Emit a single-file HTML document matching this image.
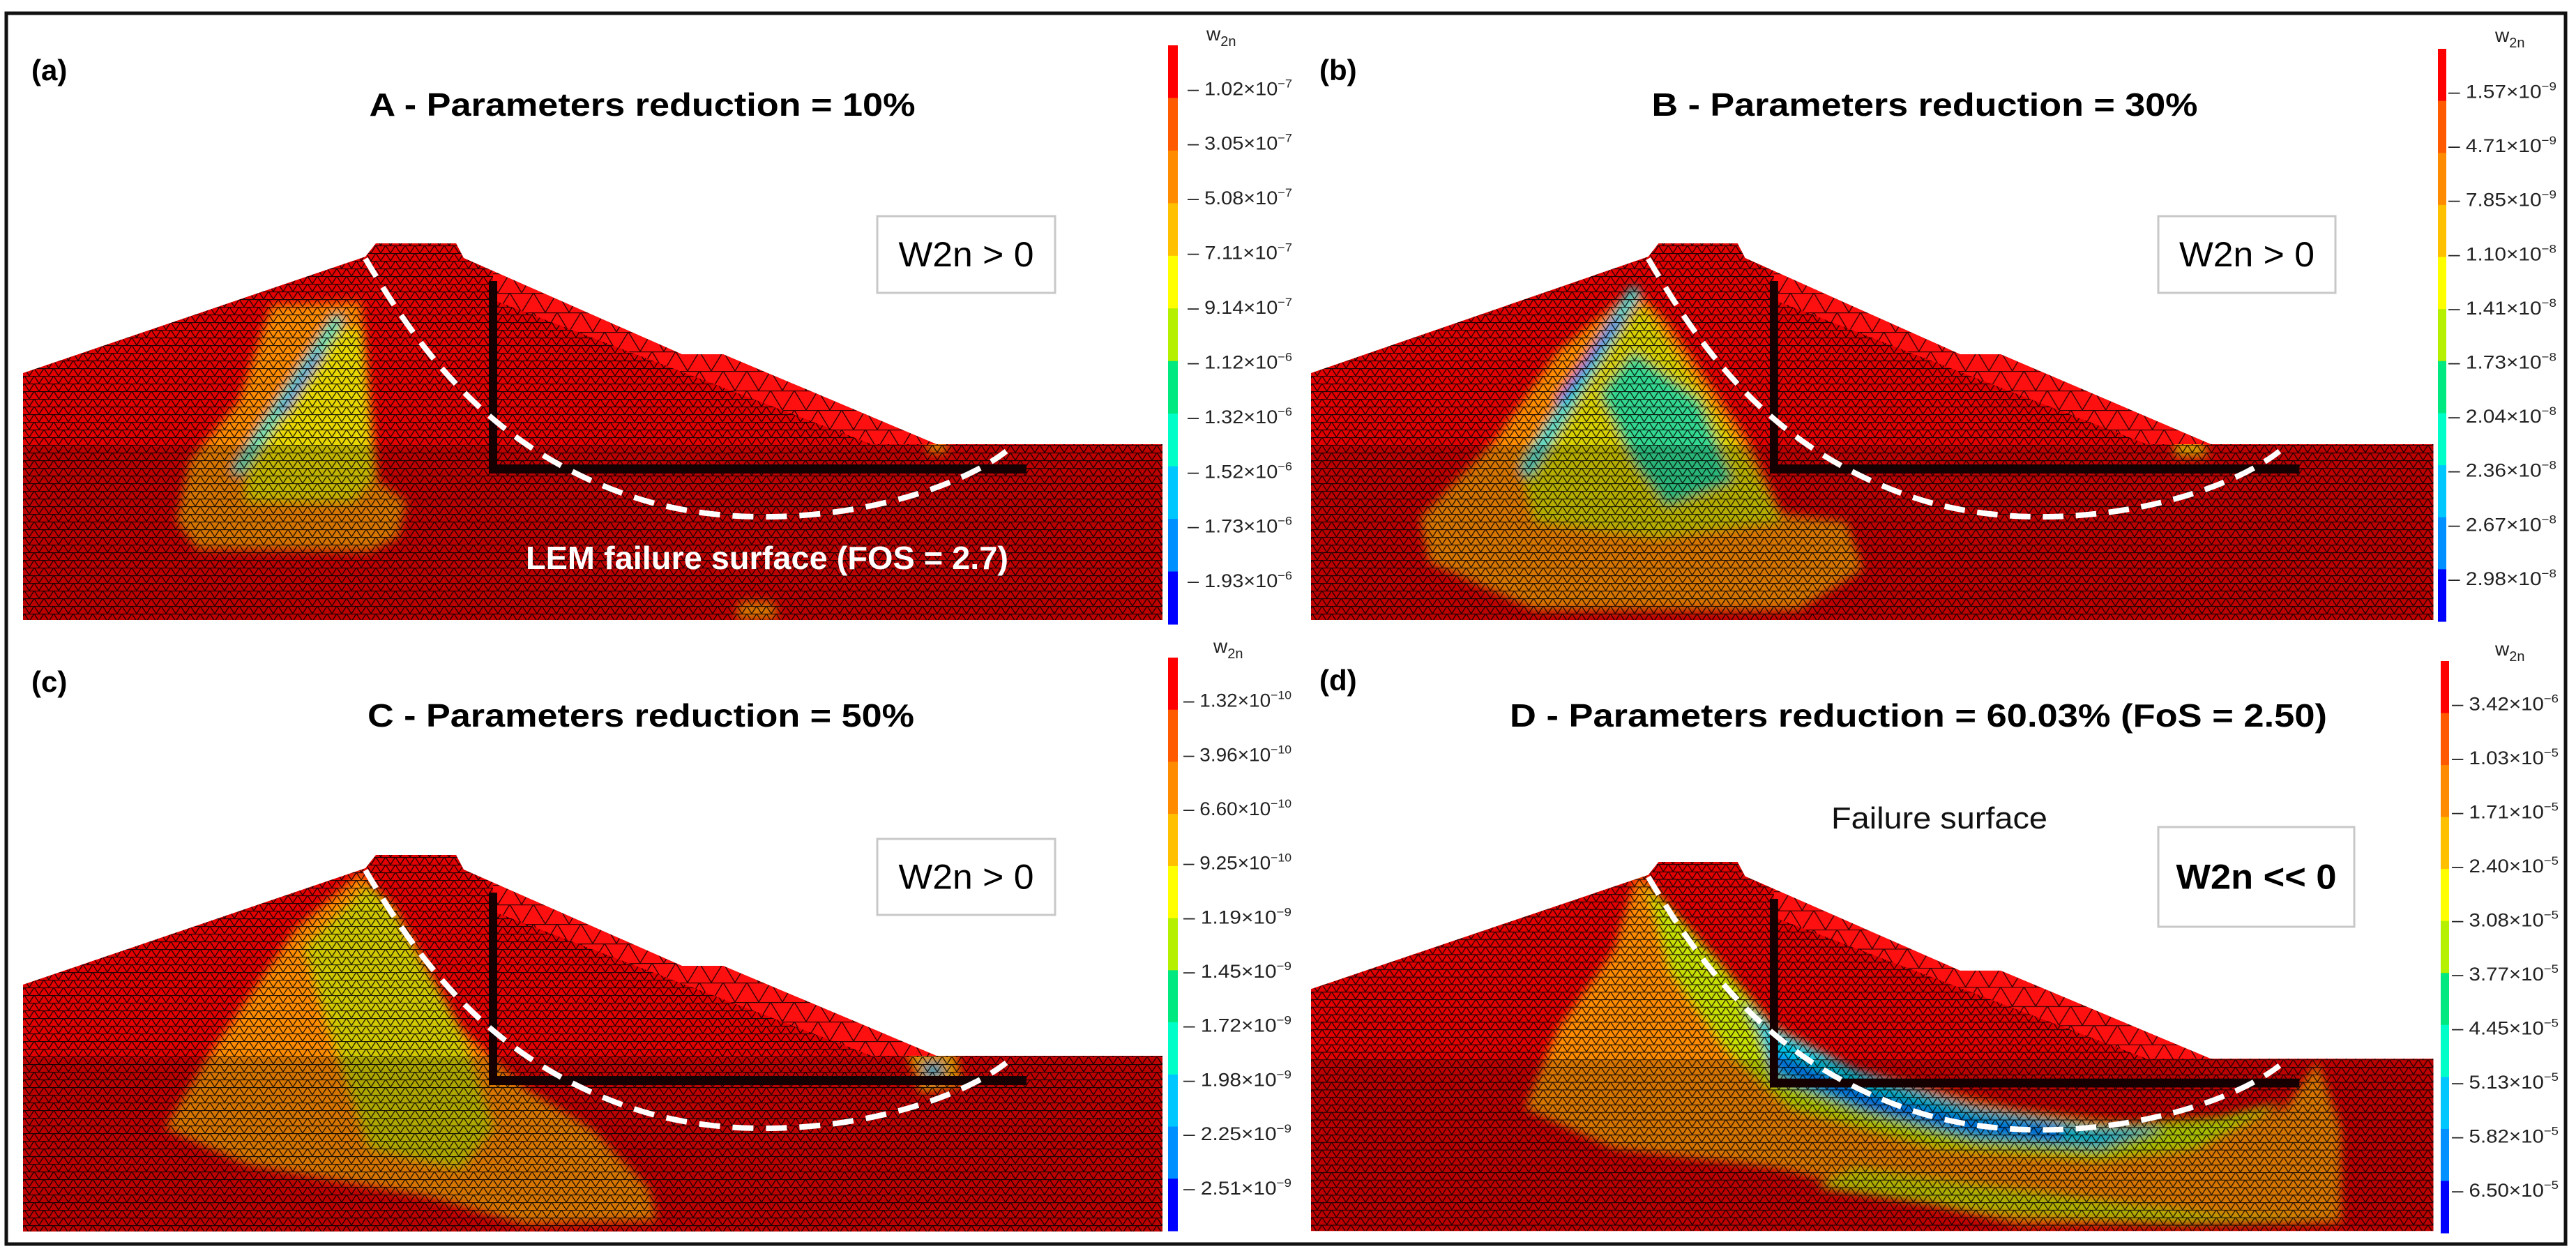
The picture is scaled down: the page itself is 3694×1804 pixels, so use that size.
<!DOCTYPE html>
<html><head><meta charset="utf-8"><style>
html,body{margin:0;padding:0;background:#fff}
svg{display:block}
text{font-family:"Liberation Sans",Arial,sans-serif}
</style></head><body>
<svg id="fig" width="3694" height="1804" viewBox="0 0 3694 1804" xmlns="http://www.w3.org/2000/svg">
<defs>
<pattern id="mesh" width="14" height="11" patternUnits="userSpaceOnUse">
<path d="M0 0.5H14M0 11L7 0L14 11" stroke="#000" stroke-width="1.3" stroke-opacity="0.85" fill="none"/>
</pattern>
<pattern id="meshc" width="34" height="28" patternUnits="userSpaceOnUse">
<path d="M0 0.5H34M0 28L17 0L34 28" stroke="#000" stroke-width="1.4" stroke-opacity="0.8" fill="none"/>
</pattern>
<filter id="soft" x="-20%" y="-20%" width="140%" height="140%"><feGaussianBlur stdDeviation="7"/></filter>
</defs>
<rect x="9" y="19" width="3670" height="1765" fill="#fff" stroke="#111" stroke-width="5"/>
</svg>
<script>
const NS='http://www.w3.org/2000/svg';
const svg=document.getElementById('fig');
const bandColors=['#ff0000','#ff5a00','#ff8c00','#ffc000','#ffff00','#b4f000','#00e880','#00ffc8','#00c8ff','#0090ff','#0000ff'];
const labelsA=['1.02','3.05','5.08','7.11','9.14','1.12','1.32','1.52','1.73','1.93'];
const expsA=['-7','-7','-7','-7','-7','-6','-6','-6','-6','-6'];
const labelsB=['1.57','4.71','7.85','1.10','1.41','1.73','2.04','2.36','2.67','2.98'];
const expsB=['-9','-9','-9','-8','-8','-8','-8','-8','-8','-8'];
const labelsC=['1.32','3.96','6.60','9.25','1.19','1.45','1.72','1.98','2.25','2.51'];
const expsC=['-10','-10','-10','-10','-9','-9','-9','-9','-9','-9'];
const labelsD=['3.42','1.03','1.71','2.40','3.08','3.77','4.45','5.13','5.82','6.50'];
const expsD=['-6','-5','-5','-5','-5','-5','-5','-5','-5','-5'];

function el(tag,attrs,parent){const e=document.createElementNS(NS,tag);for(const k in attrs)e.setAttribute(k,attrs[k]);(parent||svg).appendChild(e);return e;}
function pts(a){return a.map(p=>p.join(',')).join(' ');}

const dam=[[33,535],[524,368],[539,349],[654,349],[665,370],[978,508],[1037,508],[1343,637],[1667,637],[1667,889],[33,889]];
const dsShell=[[654,349],[665,370],[978,508],[1037,508],[1343,637],[1250,637],[707,430],[707,349]];

const blobsA=[
 {c:'#ff8c00',p:[[389,437],[518,432],[542,690],[583,719],[571,771],[530,791],[283,788],[253,748],[271,662],[342,575]]},
 {c:'#e8d800',p:[[471,472],[518,472],[536,685],[506,719],[353,719],[353,662],[400,604]]},
 {c:'#ff8c00',p:[[1060,862],[1110,862],[1115,889],[1055,889]]},
 {c:'#ffa000',p:[[1330,632],[1355,632],[1360,650],[1330,650]]}];
const streakA=[{c:'#00e0c0',w:16,p:[[483,460],[342,673]]},{c:'#0030ff',w:7,p:[[459,506],[405,590]]}];

const blobsB=[
 {c:'#ff8c00',p:[[503,414],[551,460],[671,633],[718,736],[813,748],[837,817],[742,875],[359,875],[204,806],[192,742],[299,633],[394,501]]},
 {c:'#d8d000',p:[[515,437],[671,662],[718,748],[538,771],[359,748],[335,662],[418,547]]},
 {c:'#30d890',p:[[503,506],[598,575],[646,690],[551,725],[503,662],[455,564]]},
 {c:'#ffc000',p:[[1290,632],[1330,632],[1340,655],[1290,655]]}];
const streakB=[{c:'#00d8d0',w:18,p:[[503,420],[348,673]]},{c:'#0030ff',w:8,p:[[479,460],[396,575]]}];

const blobsC=[
 {c:'#ff8c00',p:[[518,373],[554,425],[660,597],[754,684],[848,741],[931,827],[942,874],[754,879],[612,839],[353,793],[236,741],[306,626],[424,454]]},
 {c:'#d0c800',p:[[530,390],[565,425],[660,597],[707,741],[660,799],[530,770],[471,597],[436,482]]},
 {c:'#ffb000',p:[[1300,630],[1370,630],[1380,680],[1320,690]]},
 {c:'#00b0d0',p:[[1325,648],[1350,648],[1352,668],[1325,668]]}];

const blobsD=[
 {c:'#ff8c00',p:[[508,365],[556,423],[697,595],[826,653],[1062,710],[1298,739],[1451,710],[1498,641],[1533,739],[1533,877],[1062,880],[709,797],[473,768],[344,710],[391,595],[473,480]]},
 {c:'#c8e000',p:[[520,377],[614,480],[709,590],[826,653],[1003,710],[1180,733],[1357,722],[1451,699],[1321,768],[1180,785],[946,768],[732,710],[638,624],[556,509]]},
 {c:'#00c8e0',p:[[662,555],[709,595],[826,653],[1003,710],[1180,739],[1274,739],[1180,768],[1003,756],[826,710],[709,665],[685,595]]},
 {c:'#d0d000',p:[[826,797],[1121,837],[1357,866],[1533,872],[1298,880],[1003,860],[768,825]]}];
const streakD=[{c:'#0070ff',w:18,p:[[710,640],[850,700],[1000,735],[1120,745]]}];

function panel(cfg){
 const g=el('g',{transform:`translate(${cfg.dx},${cfg.dy}) scale(${cfg.sx},${cfg.sy})`});
 
 
 const cid='clip-'+cfg.id;
 const cp=el('clipPath',{id:cid},g);el('polygon',{points:pts(dam)},cp);
 const body=el('polygon',{points:pts(dam),fill:'#e20000'},g);
 
 
 const bg=el('g',{'clip-path':`url(#${cid})`},g);
 const bl=el('g',{filter:'url(#soft)'},bg);
 cfg.blobs.forEach(b=>{el('polygon',{points:pts(b.p),fill:b.c},bl);});
 (cfg.streaks||[]).forEach(s=>{el('polyline',{points:pts(s.p),stroke:s.c,'stroke-width':s.w,fill:'none','stroke-linecap':'round'},bl);});
 el('polygon',{points:pts(dam),fill:'url(#mesh)'},bg);
 el('rect',{x:33,y:640,width:1634,height:249,fill:'#000',opacity:0.16},bg);
 el('polygon',{points:pts(dsShell),fill:'#ff1010'},bg);
 el('polygon',{points:pts(dsShell),fill:'url(#meshc)'},bg);
 const core=el('g',{},g);
 
 
 el('rect',{x:701,y:403,width:12,height:276,fill:'#140000'},core);
 el('rect',{x:701,y:666,width:771,height:13,fill:'#140000'},core);
 const c=el('path',{d:'M524 371 C 600 500, 700 640, 900 710 S 1350 720, 1443 647',stroke:'#fff','stroke-width':8,'stroke-dasharray':'30 18',fill:'none'},g);
 
 
}

function title(x,y,txt,len,size,weight,fill,name){
 const t=el('text',{x:x,y:y,'text-anchor':'middle','font-size':size,'font-weight':weight,fill:fill,textLength:len,lengthAdjust:'spacingAndGlyphs'});
 t.textContent=txt;
 
 
}

function box(x,y,w,h,txt,len,bold,name){
 const r=el('rect',{x:x,y:y,width:w,height:h,fill:'#fff',stroke:'#c8c8c8','stroke-width':3});
 
 
 const t=el('text',{x:x+w/2,y:y+h/2+17,'text-anchor':'middle','font-size':50,'font-weight':bold?'bold':'normal',textLength:len,lengthAdjust:'spacingAndGlyphs'});
 t.textContent=txt;
 
 
}

function colorbar(id,x,y0,y1,w,labels,exps,lx,llen,tx,ty){
 const g=el('g',{});
 
 
 const h=y1-y0,n=bandColors.length;
 bandColors.forEach((c,i)=>{el('rect',{x:x,y:y0+i*h/n,width:w,height:h/n+0.6,fill:c},g);});
 labels.forEach((v,i)=>{
  const yy=y0+h*(0.075+i*0.0945)+9;
  const t=el('text',{x:lx,y:yy,'font-size':27,fill:'#222',textLength:llen,lengthAdjust:'spacingAndGlyphs'},g);
  
  
  const a=el('tspan',{},t);a.textContent='\u2013 '+v+'\u00d710';
  const b=el('tspan',{dy:-11,'font-size':17},t);b.textContent=exps[i].replace('-','\u2212');
 });
 const tt=el('text',{x:tx,y:ty,'font-size':28,fill:'#222'},g);
 
 
 const t1=el('tspan',{},tt);t1.textContent='w';
 const t2=el('tspan',{dy:8,'font-size':20},tt);t2.textContent='2n';
}

function plabel(x,y,txt,name){
 const t=el('text',{x:x,y:y,'font-size':42,'font-weight':'bold'});
 t.textContent=txt;
 
 
}

panel({id:'panel-a',dx:0,dy:0,sx:1,sy:1,blobs:blobsA,streaks:streakA});
panel({id:'panel-b',dx:1847.5,dy:0,sx:0.985,sy:1,blobs:blobsB,streaks:streakB});
panel({id:'panel-c',dx:0,dy:877,sx:1,sy:1,blobs:blobsC});
panel({id:'panel-d',dx:1847.5,dy:894,sx:0.985,sy:0.98,blobs:blobsD,streaks:streakD});

plabel(45,115,'(a)','panel-a-label');
plabel(1892,115,'(b)','panel-b-label');
plabel(45,992,'(c)','panel-c-label');
plabel(1892,990,'(d)','panel-d-label');

title(921,166,'A - Parameters reduction = 10%',783,46,'bold','#000','panel-a-title');
title(2760,166,'B - Parameters reduction = 30%',783,46,'bold','#000','panel-b-title');
title(919,1042,'C - Parameters reduction = 50%',784,46,'bold','#000','panel-c-title');
title(2751,1042,'D - Parameters reduction = 60.03% (FoS = 2.50)',1172,46,'bold','#000','panel-d-title');
title(1100,816,'LEM failure surface (FOS = 2.7)',692,46,'bold','#fff','lem-failure-label');
title(2781,1188,'Failure surface',310,44,'normal','#111','failure-surface-label');

box(1258,310,255,110,'W2n > 0',194,false,'panel-a-condition-box');
box(3095,310,254,110,'W2n > 0',194,false,'panel-b-condition-box');
box(1258,1203,255,109,'W2n > 0',194,false,'panel-c-condition-box');
box(3095,1186,281,143,'W2n << 0',230,true,'panel-d-condition-box');

colorbar('panel-a',1675,65,895,14,labelsA,expsA,1703,150,1730,58);
colorbar('panel-b',3496,70,891,12,labelsB,expsB,3511,155,3578,60);
colorbar('panel-c',1675,943,1765,14,labelsC,expsC,1697,155,1740,936);
colorbar('panel-d',3500,948,1768,12,labelsD,expsD,3516,153,3578,940);
</script>
</body></html>
